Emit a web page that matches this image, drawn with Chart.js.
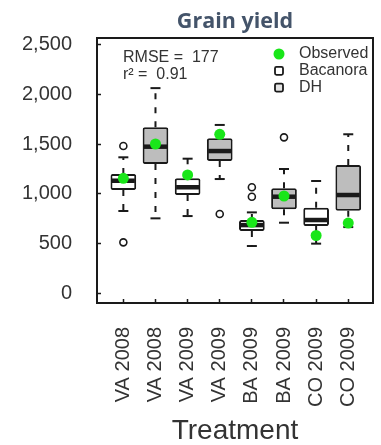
<!DOCTYPE html>
<html>
<head>
<meta charset="utf-8">
<script src="https://cdn.jsdelivr.net/npm/chart.js@4.4.1/dist/chart.umd.min.js"></script>
<style>
  html, body { margin: 0; padding: 0; background: #fff; }
  canvas { display: block; }
</style>
</head>
<body>
<canvas id="yieldChart" width="381" height="445"></canvas>
<script>
// --- DATA ---
const categories = ['VA 2008', 'VA 2008', 'VA 2009', 'VA 2009', 'BA 2009', 'BA 2009', 'CO 2009', 'CO 2009'];
const cultivars = ['Bacanora', 'DH', 'Bacanora', 'DH', 'Bacanora', 'DH', 'Bacanora', 'DH'];
const lowerWhisker = [827, 753, 776, 1149, 474, 709, 498, 665];
const q1 = [1038, 1300, 988, 1331, 625, 844, 675, 830];
const median = [1132, 1475, 1066, 1431, 685, 971, 736, 988];
const q3 = [1200, 1670, 1156, 1559, 736, 1055, 860, 1290];
const upperWhisker = [1368, 2065, 1354, 1694, 813, 1250, 1129, 1600];
const outliers = [[1482, 511], [], [], [796], [1066, 971], [1569], [], []];
const observed = [1156, 1502, 1190, 1600, 713, 978, 580, 705];
const yTicks = [0, 500, 1000, 1500, 2000, 2500];
const statsLines = ['RMSE =  177', 'r\u00b2 =  0.91'];

const fills = { Bacanora: '#ffffff', DH: '#bdbdbd' };
const ink = '#1a1a1a';
const textFont = '"Liberation Sans", Arial, sans-serif';

// --- HELPERS ---

function boxData(name) {
    return categories.map((c, i) => cultivars[i] === name ? { x: i, y: [q1[i], q3[i]] } : null)
        .filter(p => p);
}

function whiskerData() {
    const pts = [];
    categories.forEach((c, i) => {
        pts.push({ x: i, y: q3[i] }, { x: i, y: upperWhisker[i] }, { x: i, y: null });
        pts.push({ x: i, y: q1[i] }, { x: i, y: lowerWhisker[i] }, { x: i, y: null });
    });
    return pts;
}

// frame round the plot, like the original's box
const framePlugin = {
    id: 'frame',
    afterDatasetsDraw(chart) {
        const { ctx, chartArea: a } = chart;
        ctx.save();
        ctx.strokeStyle = ink;
        ctx.lineWidth = 2;
        ctx.strokeRect(a.left, a.top, a.right - a.left, a.bottom - a.top);
        ctx.restore();
    }
};

// fit statistics and the legend sit inside the plot
const insideLegend = {
    id: 'insideLegend',
    afterDraw(chart) {
        const { ctx, chartArea: a } = chart;
        ctx.save();
        ctx.font = '16px ' + textFont;
        ctx.fillStyle = '#333';
        ctx.textBaseline = 'middle';
        statsLines.forEach((line, i) => ctx.fillText(line, a.left + 26, a.top + 20 + i * 17));

        const items = chart.data.datasets.filter(d => d.legendShape);
        items.forEach((d, i) => {
            const cx = a.right - 94;
            const cy = a.top + 16 + i * 16.8;
            if (d.legendShape === 'dot') {
                ctx.beginPath();
                ctx.fillStyle = d.pointBackgroundColor;
                ctx.arc(cx, cy, 5.5, 0, Math.PI * 2);
                ctx.fill();
            } else {
                ctx.beginPath();
                ctx.fillStyle = d.legendFill;
                ctx.strokeStyle = ink;
                ctx.lineWidth = 1.8;
                ctx.roundRect(cx - 4, cy - 4, 8, 8, 1.5);
                ctx.fill();
                ctx.stroke();
            }
            ctx.fillStyle = '#333';
            ctx.fillText(d.label, a.right - 74, cy);
        });
        ctx.restore();
    }
};

// --- CHART ---

new Chart(document.getElementById('yieldChart'), {
    type: 'bar',
    data: {
        datasets: [
            {
                type: 'scatter', label: 'Observed', data: observed.map((v, i) => ({ x: i, y: v })),
                pointRadius: 5.5, pointBackgroundColor: '#19e619', pointBorderWidth: 0,
                order: 0, legendShape: 'dot'
            },
            {
                type: 'scatter', label: 'outliers',
                data: outliers.flatMap((vals, i) => vals.map(v => ({ x: i, y: v }))),
                pointRadius: 3.5, pointBackgroundColor: '#fff', pointBorderColor: ink, pointBorderWidth: 1.6,
                order: 1
            },
            {
                type: 'scatter', label: 'median', data: median.map((v, i) => ({ x: i, y: v })),
                pointStyle: 'line', pointRadius: 11.5, pointBorderColor: ink, pointBorderWidth: 4.5,
                order: 2
            },
            {
                type: 'scatter', label: 'caps',
                data: categories.flatMap((c, i) => [{ x: i, y: upperWhisker[i] }, { x: i, y: lowerWhisker[i] }]),
                pointStyle: 'line', pointRadius: 5, pointBorderColor: ink, pointBorderWidth: 2,
                order: 3
            },
            {
                label: 'Bacanora', data: boxData('Bacanora'), backgroundColor: fills.Bacanora,
                borderColor: ink, borderWidth: 2, borderSkipped: false, borderRadius: 2,
                order: 4, legendShape: 'box', legendFill: '#fff'
            },
            {
                label: 'DH', data: boxData('DH'), backgroundColor: fills.DH,
                borderColor: ink, borderWidth: 2, borderSkipped: false, borderRadius: 2,
                order: 4, legendShape: 'box', legendFill: '#e4e4e4'
            },
            {
                type: 'line', label: 'whiskers', data: whiskerData(),
                borderColor: ink, borderWidth: 2, borderDash: [6, 8], pointRadius: 0,
                spanGaps: false, tension: 0, order: 5
            }
        ]
    },
    options: {
        responsive: false,
        animation: false,
        grouped: false,
        barPercentage: 0.8,
        categoryPercentage: 1,
        // the wide median markers would otherwise add overflow padding round the plot
        layout: { autoPadding: false, padding: { left: 0, right: 8, top: 0, bottom: 0 } },
        scales: {
            x: {
                type: 'linear', min: -0.82, max: 7.77, offset: false,
                afterBuildTicks: axis => { axis.ticks = categories.map((c, i) => ({ value: i })); },
                afterFit: axis => {
                    axis.height = 142;
                    axis.paddingLeft = 0;
                    axis.paddingRight = 0;
                },
                border: { display: false },
                grid: { offset: false, drawOnChartArea: false, tickLength: -4, tickColor: ink, tickWidth: 1.5 },
                ticks: {
                    autoSkip: false, minRotation: 90, maxRotation: 90, padding: 28, color: '#333',
                    font: { family: textFont, size: 20 },
                    callback: value => categories[value]
                },
                title: {
                    display: true, text: 'Treatment', color: '#333',
                    font: { family: textFont, size: 28, lineHeight: 1 }, padding: { top: 0, bottom: 0 }
                }
            },
            y: {
                min: -100, max: 2570,
                afterBuildTicks: axis => { axis.ticks = yTicks.map(v => ({ value: v })); },
                afterFit: axis => {
                    axis.width = 97;
                    axis.paddingTop = 0;
                    axis.paddingBottom = 0;
                },
                border: { display: false },
                grid: { drawOnChartArea: false, tickLength: -4, tickColor: ink, tickWidth: 1.5 },
                ticks: {
                    padding: 29, color: '#333',
                    font: { family: textFont, size: 20 },
                    callback: value => value.toLocaleString('en-US')
                }
            }
        },
        plugins: {
            legend: { display: false },
            tooltip: { enabled: false },
            title: {
                display: true, text: 'Grain yield', fullSize: false, color: '#44546a',
                font: { family: '"Open Sans"', weight: 'bold', size: 21.5 },
                padding: { top: 9, bottom: 3.2 }
            }
        }
    },
    plugins: [framePlugin, insideLegend]
});
</script>
</body>
</html>
